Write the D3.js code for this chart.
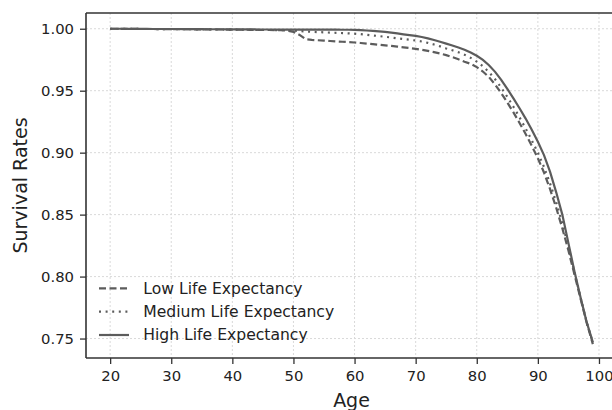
<!DOCTYPE html>
<html><head><meta charset="utf-8">
<script src="https://cdn.jsdelivr.net/npm/d3@7"></script>
<style>body{margin:0;background:#fff}svg{display:block}text{font-family:"DejaVu Sans",sans-serif}</style>
</head><body><svg id="c" width="612" height="410"></svg>
<script>
const ages = d3.range(20, 100);
const lowLE = [
1.0000,1.0000,0.9999,0.9999,0.9999,0.9998,0.9998,0.9998,0.9997,0.9997,
0.9997,0.9996,0.9996,0.9996,0.9995,0.9995,0.9995,0.9994,0.9994,0.9993,
0.9993,0.9992,0.9992,0.9991,0.9991,0.9990,0.9990,0.9989,0.9988,0.9985,
0.9975,0.9950,0.9915,0.9910,0.9907,0.9904,0.9901,0.9898,0.9895,0.9892,
0.9889,0.9885,0.9880,0.9876,0.9871,0.9866,0.9861,0.9856,0.9850,0.9845,
0.9838,0.9830,0.9821,0.9811,0.9800,0.9787,0.9771,0.9754,0.9734,0.9717,
0.9690,0.9655,0.9610,0.9550,0.9480,0.9405,0.9325,0.9240,0.9150,0.9055,
0.8955,0.8840,0.8705,0.8555,0.8390,0.8210,0.8015,0.7820,0.7625,0.7455];
const mediumLE = [
1.0000,1.0000,0.9999,0.9999,0.9999,0.9998,0.9998,0.9998,0.9997,0.9997,
0.9997,0.9996,0.9996,0.9996,0.9995,0.9995,0.9995,0.9994,0.9994,0.9993,
0.9993,0.9992,0.9992,0.9991,0.9991,0.9990,0.9990,0.9989,0.9989,0.9988,
0.9985,0.9981,0.9978,0.9975,0.9973,0.9971,0.9969,0.9967,0.9965,0.9963,
0.9960,0.9956,0.9951,0.9946,0.9941,0.9935,0.9929,0.9923,0.9917,0.9911,
0.9905,0.9897,0.9886,0.9873,0.9858,0.9841,0.9826,0.9810,0.9790,0.9765,
0.9735,0.9697,0.9650,0.9592,0.9525,0.9450,0.9370,0.9285,0.9195,0.9100,
0.9000,0.8885,0.8750,0.8600,0.8430,0.8240,0.8030,0.7830,0.7630,0.7465];
const highLE = [
1.0000,1.0000,1.0000,0.9999,0.9999,0.9999,0.9999,0.9998,0.9998,0.9998,
0.9998,0.9998,0.9997,0.9997,0.9997,0.9997,0.9996,0.9996,0.9996,0.9996,
0.9995,0.9995,0.9995,0.9995,0.9994,0.9994,0.9994,0.9993,0.9993,0.9993,
0.9993,0.9993,0.9993,0.9993,0.9993,0.9993,0.9993,0.9993,0.9992,0.9992,
0.9991,0.9989,0.9986,0.9982,0.9978,0.9974,0.9968,0.9962,0.9955,0.9949,
0.9942,0.9933,0.9922,0.9909,0.9895,0.9880,0.9865,0.9848,0.9830,0.9808,
0.9782,0.9748,0.9705,0.9652,0.9588,0.9515,0.9438,0.9358,0.9275,0.9185,
0.9088,0.8980,0.8845,0.8680,0.8500,0.8270,0.8040,0.7830,0.7630,0.7470];
const seriesNames = ["Low Life Expectancy","Medium Life Expectancy","High Life Expectancy"];
const xTicks = [20,30,40,50,60,70,80,90,100];
const yTicks = [0.75,0.80,0.85,0.90,0.95,1.00];

const svg = d3.select("#c");
const L = 86, R = 617, T = 13, B = 358;
const x = d3.scaleLinear().domain([16.05, 102.95]).range([L, R]);
const y = d3.scaleLinear().domain([0.7343, 1.0127]).range([B, T]);
const lineCol = "#5c5c5c", axCol = "#333";

// grid
const g = svg.append("g");
g.selectAll(".gx").data(xTicks).enter().append("line")
 .attr("x1", d=>x(d)).attr("x2", d=>x(d)).attr("y1", T).attr("y2", B)
 .attr("stroke", "#d9d9d9").attr("stroke-width", 1).attr("stroke-dasharray", "2,2");
g.selectAll(".gy").data(yTicks).enter().append("line")
 .attr("x1", L).attr("x2", R).attr("y1", d=>y(d)).attr("y2", d=>y(d))
 .attr("stroke", "#d9d9d9").attr("stroke-width", 1).attr("stroke-dasharray", "2,2");

// lines
const dashes = ["7,3.5", "2,4.6", null];
const data = [lowLE, mediumLE, highLE];
const line = d3.line().x((d,i)=>x(ages[i])).y(d=>y(d));
data.forEach((s, k) => {
  svg.append("path").datum(s).attr("d", line).attr("fill","none")
    .attr("stroke", lineCol).attr("stroke-width", 2.2)
    .attr("stroke-dasharray", dashes[k]);
});

// axes
const xAxis = svg.append("g").attr("transform", `translate(0,${B})`)
  .call(d3.axisBottom(x).tickValues(xTicks).tickSize(6).tickPadding(6).tickFormat(d3.format("d")));
const yAxis = svg.append("g").attr("transform", `translate(${L},0)`)
  .call(d3.axisLeft(y).tickValues(yTicks).tickSize(6).tickPadding(6).tickFormat(d3.format(".2f")));
[xAxis, yAxis].forEach(a => {
  a.select(".domain").remove();
  a.selectAll("line").attr("stroke", axCol).attr("stroke-width", 1.3);
  a.selectAll("text").attr("fill", "#222").style("font-size", "14.8px").style("font-family", "DejaVu Sans");
});
// spines
svg.append("line").attr("x1", L).attr("x2", R).attr("y1", B).attr("y2", B).attr("stroke", axCol).attr("stroke-width", 1.6);
svg.append("line").attr("x1", L).attr("x2", R).attr("y1", T).attr("y2", T).attr("stroke", axCol).attr("stroke-width", 1.6);
svg.append("line").attr("x1", L).attr("x2", L).attr("y1", T).attr("y2", B).attr("stroke", axCol).attr("stroke-width", 1.6);

// labels
svg.append("text").attr("x", (L+R)/2).attr("y", 407).attr("text-anchor","middle")
  .attr("fill","#222").style("font-size","19px").text("Age");
svg.append("text").attr("transform", `translate(27,${(T+B)/2}) rotate(-90)`).attr("text-anchor","middle")
  .attr("fill","#222").style("font-size","19px").text("Survival Rates");

// legend
const leg = svg.append("g");
seriesNames.forEach((n, k) => {
  const yy = 288.3 + k*23.35;
  leg.append("line").attr("x1", 99).attr("x2", 129).attr("y1", yy).attr("y2", yy)
    .attr("stroke", lineCol).attr("stroke-width", 2.2).attr("stroke-dasharray", dashes[k]);
  leg.append("text").attr("x", 143.3).attr("y", yy).attr("dy", "0.35em")
    .attr("fill","#222").style("font-size","15.6px").text(n);
});
</script></body></html>
